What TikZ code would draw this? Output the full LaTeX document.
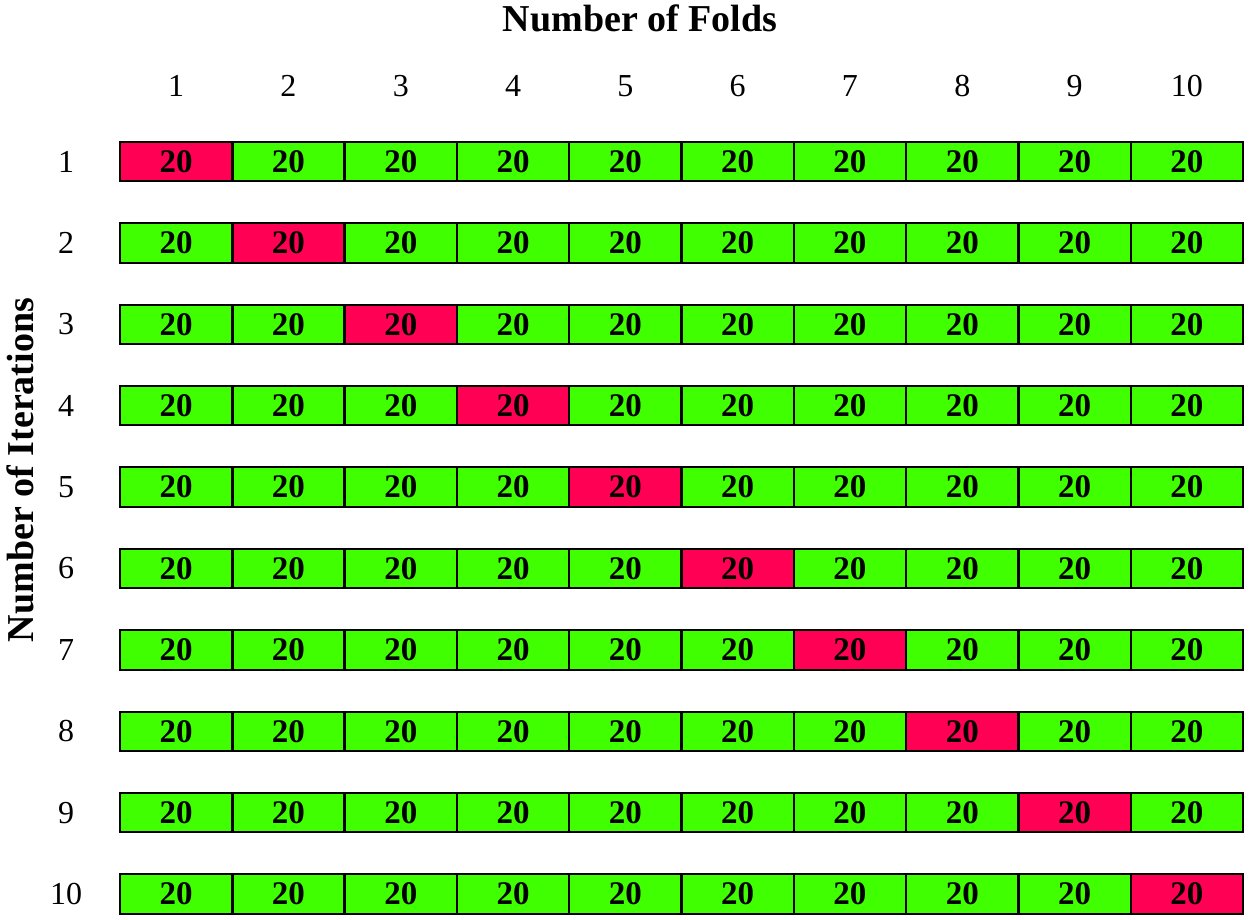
\documentclass[tikz,border=0pt]{standalone}
\usepackage{fontspec}
\setmainfont{Liberation Serif}
\definecolor{cellred}{RGB}{255,0,85}
\definecolor{cellgreen}{RGB}{64,255,0}
\begin{document}
\begin{tikzpicture}[x=1pt,y=-1pt,
  cell/.style={minimum width=112.3pt,minimum height=39pt,inner sep=0pt,
    font=\fontsize{33}{33}\selectfont\bfseries, fill=cellgreen},
  testcell/.style={cell,fill=cellred},
  border/.style={draw=black,line width=2pt},
  lab/.style={font=\fontsize{32}{32}\selectfont, inner sep=0pt},
  ttl/.style={font=\fontsize{38}{38}\selectfont\bfseries, inner sep=0pt}]
\useasboundingbox (0,0) rectangle (1250,920);
\node[ttl] (title) at (640,18) {Number of Folds};
\node[ttl, rotate=90] (ylab) at (20,470) {Number of Iterations};
\foreach \j in {1,...,10} {
  \node[lab] (col\j) at ({120+112.3*(\j-0.5)},86) {\j};
}
\foreach \i in {1,...,10} {
  \pgfmathsetmacro{\yy}{161.5+81.4*(\i-1)}
  \node[lab] (row\i) at (66,\yy) {\i};
  \foreach \j in {1,...,10} {
    \ifnum\i=\j
      \node[testcell] (c\i-\j) at ({120+112.3*(\j-0.5)},\yy) {\raisebox{-2.5pt}{20}};
    \else
      \node[cell] (c\i-\j) at ({120+112.3*(\j-0.5)},\yy) {\raisebox{-2.5pt}{20}};
    \fi
  }
}
\foreach \i in {1,...,10} {
  \foreach \j in {1,...,10} {
    \draw[border] (c\i-\j.north west) rectangle (c\i-\j.south east);
  }
}
\end{tikzpicture}
\end{document}
